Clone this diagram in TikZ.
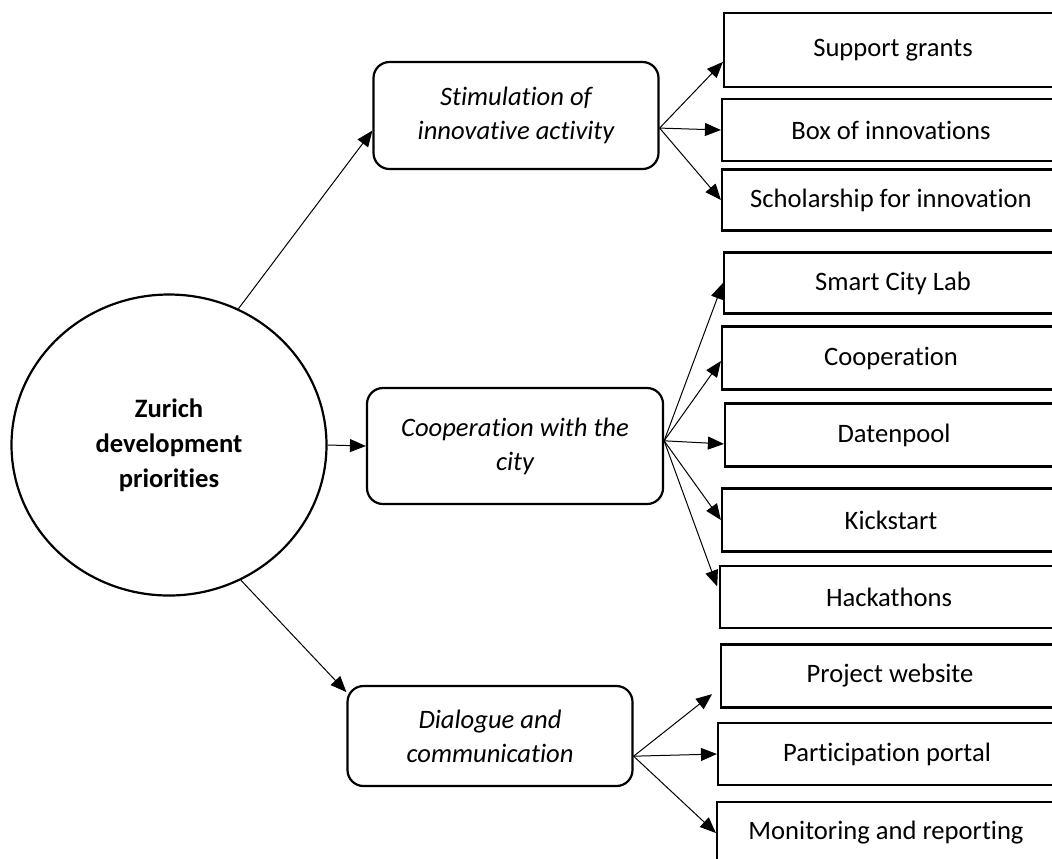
\documentclass[tikz,border=0pt]{standalone}
\usepackage{fontspec}
\setmainfont{Carlito}[Ligatures={TeX,NoCommon}]
\usetikzlibrary{arrows.meta,shapes.geometric}

\begin{document}
\begin{tikzpicture}[x=0.5pt,y=-0.5pt,
  every node/.style={font=\fontsize{13.3}{17}\selectfont},
  prio/.style={draw,line width=1.1pt,rounded corners=8pt,align=center,
    font=\fontsize{13.3}{17}\selectfont\itshape},
  item/.style={draw,line width=1.1pt,minimum width=169pt,inner sep=0pt},
  link/.style={line width=0.5pt,-{Triangle[length=8pt,width=6.5pt]}}]
  \useasboundingbox (0,0) rectangle (1052,858);
  \clip (0,0) rectangle (1052,858);
  % centre
  \node[ellipse,draw,line width=1.1pt,minimum width=157.5pt,minimum height=150.5pt,
    align=center,font=\fontsize{13.3}{17.5}\selectfont\bfseries] (zurich) at (169,445)
    {Zurich\\development\\priorities};
  % priorities
  \node[prio,minimum width=142.5pt,minimum height=53.5pt] (stim) at (516,115.5)
    {Stimulation of\\innovative activity};
  \node[prio,minimum width=148pt,minimum height=58pt] (coop) at (515,446)
    {Cooperation with the\\city};
  \node[prio,minimum width=142.5pt,minimum height=50pt] (dial) at (490,736)
    {Dialogue and\\communication};
  % measures
  \foreach \n/\x/\y/\h/\t in {grants/893/50/74/Support grants,
      boxinn/891/130/62/Box of innovations,
      scholar/891/200/61/Scholarship for innovation,
      lab/893/283/61/Smart City Lab,
      cooper/891/358/63/Cooperation,
      daten/894/435/63/Datenpool,
      kick/891/520/63/Kickstart,
      hack/889/597/62/Hackathons,
      web/890/676/63/Project website,
      portal/887/754/62/Participation portal,
      monit/886/833/62/Monitoring and reporting}
    \node[item,minimum height=\h*0.5pt] (\n) at (\x,\y) {\t};
  \draw[link] (zurich.63) -- (stim.186);
  \draw[link] (zurich.east) -- (coop.west);
  \draw[link] (zurich.-62) -- (dial.163);
  \foreach \a/\b in {stim.-5/grants.184,stim.-5/boxinn.west,stim.-5/scholar.west,
      coop.2/lab.west,coop.2/cooper.181,coop.2/daten.183,coop.2/kick.west,
      dial.-8/portal.west,dial.-8/monit.west}
    \draw[link] (\a) -- (\b);
  \draw[link,shorten >=2.5pt] (coop.2) -- (hack.178);
  \draw[link,shorten >=5pt] (dial.-8) -- (web.184);
\end{tikzpicture}
\end{document}
